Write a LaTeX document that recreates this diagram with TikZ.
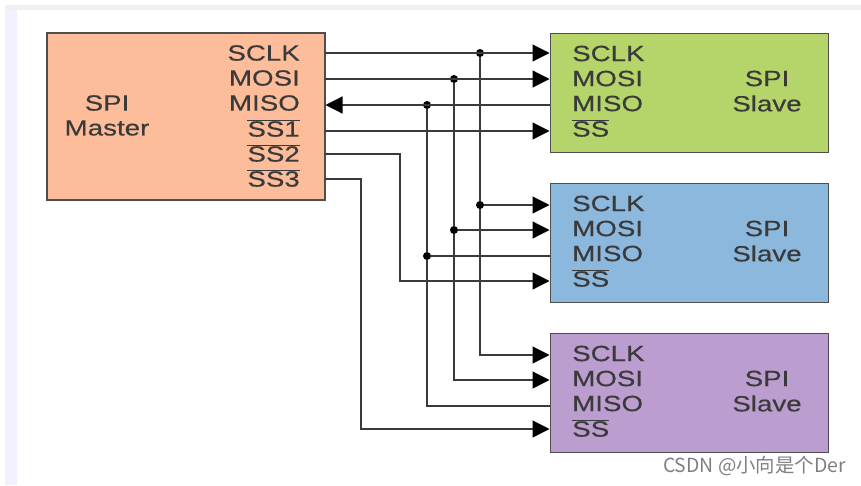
\documentclass[tikz,border=0pt]{standalone}
\usepackage{fontspec}
\setmainfont[FakeStretch=1.26,FakeBold=0.4]{Liberation Sans}
\newfontfamily\markfont{Noto Sans CJK SC}
\usetikzlibrary{arrows.meta}
\newcommand{\ovl}[1]{\ensuremath{\overline{\mbox{#1}}}}
\definecolor{masterc}{HTML}{FDBD9A}
\definecolor{slaveA}{HTML}{B5D56A}
\definecolor{slaveB}{HTML}{8DB8DE}
\definecolor{slaveC}{HTML}{BC9DCF}
\definecolor{inkc}{HTML}{3A3A3A}
\tikzset{
	box/.style={draw=inkc!90,line width=1.4pt,inner sep=0pt},
	lbl/.style={text=inkc,font=\fontsize{22}{25}\selectfont,inner sep=0pt},
	wire/.style={draw=inkc,line width=1.2pt},
	tip/.style={wire,-{Triangle[length=17pt,width=17pt,color=black]},shorten >=0.5pt},
	dot/.style={circle,fill=black,inner sep=0pt,minimum size=8pt}
}
\begin{document}
\begin{tikzpicture}[x=1pt,y=-1pt]
	\useasboundingbox (0,0) rectangle (861,485);
	\fill[white] (0,0) rectangle (861,485);
	% page edge
	\fill[black!6] (5,5) rectangle (861,10);
	\fill[blue!5] (5,10) rectangle (17,485);
	% master
	\node[box,fill=masterc,minimum width=278pt,minimum height=167pt] (master) at (186,116.5) {};
	\node[lbl] (mspi) at (107,103) {SPI};
	\node[lbl] (mname) at (107,128) {Master};
	\foreach \n/\y/\t in {msclk/53/SCLK,mmosi/78/MOSI,mmiso/103/MISO,mssa/128/\ovl{SS1},mssb/153/\ovl{SS2},mssc/178/\ovl{SS3}}
		\node[lbl,anchor=east] (\n) at (300,\y) {\t};
	\foreach \x/\y in {a/53,b/79,c/105,d/131,e/154,f/179}
		\coordinate (m\x) at (325,\y);
	% slaves
	\foreach \s/\y/\c/\a/\b/\d/\e in {A/33/slaveA/53/79/105/131,B/183/slaveB/205/230/256/281,C/333/slaveC/355/380/406/429}{
		\node[box,fill=\c,minimum width=278pt,minimum height=119pt,anchor=north west] (slave\s) at (550,\y) {};
		\node[lbl,anchor=west] (sclk\s) at (572,\y+20.5) {SCLK};
		\node[lbl,anchor=west] (mosi\s) at (572,\y+45.5) {MOSI};
		\node[lbl,anchor=west] (miso\s) at (572,\y+70.5) {MISO};
		\node[lbl,anchor=west] (ss\s) at (572,\y+95) {\ovl{SS}};
		\node[lbl] (spi\s) at (767,\y+45.5) {SPI};
		\node[lbl] (name\s) at (767,\y+70.5) {Slave};
		\coordinate (pa\s) at (550,\a);
		\coordinate (pb\s) at (550,\b);
		\coordinate (pc\s) at (550,\d);
		\coordinate (pd\s) at (550,\e);
	}
	% junctions
	\foreach \n/\x/\y in {ja/480/53,jb/454/79,jc/427/105,jd/480/205,je/454/230,jf/427/256}
		\node[dot] (\n) at (\x,\y) {};
	% buses
	\draw[tip] (ma) -- (paA);
	\draw[tip] (mb) -- (pbA);
	\draw[tip] (pcA) -- (mc);
	\draw[tip] (md) -- (pdA);
	\draw[tip] (ja) -- (jd) -- (paB);
	\draw[tip] (jb) -- (je) -- (pbB);
	\draw[wire] (jc) -- (jf) -- (pcB);
	\draw[tip] (jd) |- (paC);
	\draw[tip] (je) |- (pbC);
	\draw[wire] (jf) |- (pcC);
	% chip selects
	\draw[tip] (me) -| (400,281) -- (pdB);
	\draw[tip] (mf) -| (361,429) -- (pdC);
	\node[anchor=east,text=black!50,inner sep=0pt,font=\markfont\fontsize{19.4}{21}\selectfont] (mark) at (846,466) {CSDN @小向是个Der};
\end{tikzpicture}
\end{document}
